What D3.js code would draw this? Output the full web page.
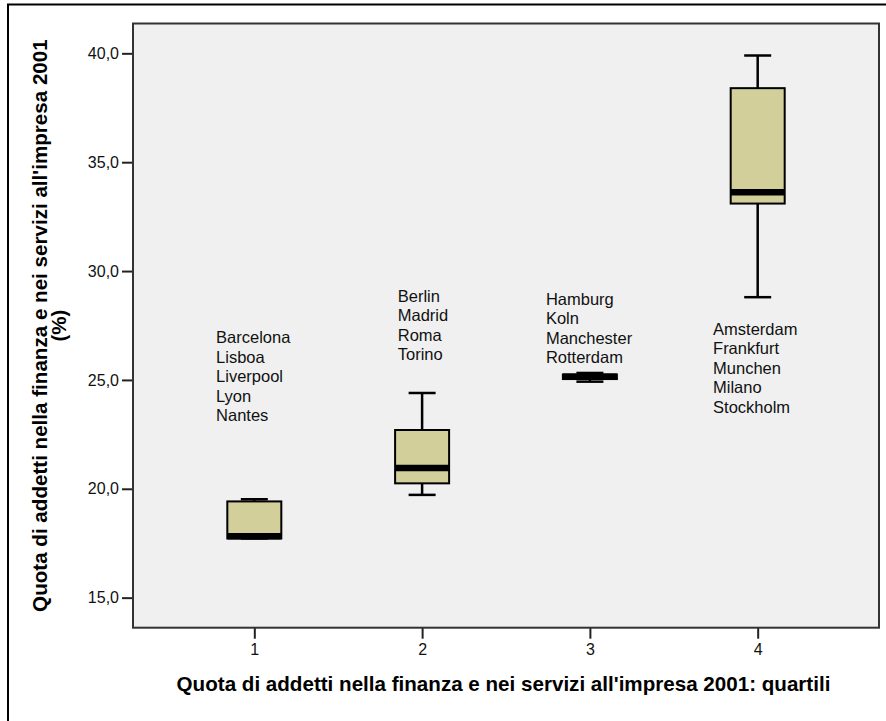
<!DOCTYPE html>
<html>
<head>
<meta charset="utf-8">
<script src="https://cdn.jsdelivr.net/npm/d3@7"></script>
<style>
  html, body { margin: 0; padding: 0; background: #ffffff; }
  svg { display: block; font-family: "Liberation Sans", Arial, sans-serif; }
</style>
</head>
<body>
<svg id="chart" width="886" height="721"></svg>
<script>
// Quartile groups of the share of employment in finance and business services (2001)
const categories = [1, 2, 3, 4];
const whiskerHigh = [19.52, 24.40, 25.32, 39.90];
const q3Values    = [19.42, 22.70, 25.25, 38.40];
const medians     = [17.82, 20.95, 25.15, 33.62];
const q1Values    = [17.72, 20.25, 25.04, 33.10];
const whiskerLow  = [17.72, 19.72, 24.92, 28.80];

// City names listed beside each quartile group
const cityGroups = [
  ["Barcelona", "Lisboa", "Liverpool", "Lyon", "Nantes"],
  ["Berlin", "Madrid", "Roma", "Torino"],
  ["Hamburg", "Koln", "Manchester", "Rotterdam"],
  ["Amsterdam", "Frankfurt", "Munchen", "Milano", "Stockholm"]
];
// Anchor of each city list, in axis units (x = group axis, y = value of first baseline)
const cityAnchorX = [0.772, 1.855, 2.738, 3.734];
const cityAnchorY = [26.69, 28.60, 28.45, 27.07];

const yTicks = [15, 20, 25, 30, 35, 40];
const yTitle = ["Quota di addetti nella finanza e nei servizi all'impresa 2001", "(%)"];
const xTitle = "Quota di addetti nella finanza e nei servizi all'impresa 2001: quartili";

const svg = d3.select("#chart");
const plot = { left: 133, top: 23.5, right: 879, bottom: 627.7 };

const x = d3.scaleLinear().domain([0.277, 4.723]).range([plot.left, plot.right]);
const y = d3.scaleLinear().domain([13.62, 41.37]).range([plot.bottom, plot.top]);

const itFormat = d3.formatLocale({ decimal: ",", thousands: ".", grouping: [3], currency: ["", "€"] }).format(".1f");

// outer frame
svg.append("rect")
  .attr("x", 8).attr("y", 4.5)
  .attr("width", 900).attr("height", 740)
  .attr("fill", "none").attr("stroke", "#000").attr("stroke-width", 2);

// plot background
svg.append("rect")
  .attr("x", plot.left).attr("y", plot.top)
  .attr("width", plot.right - plot.left).attr("height", plot.bottom - plot.top)
  .attr("fill", "#f0f0f0");

// y axis
const yAxis = svg.append("g")
  .attr("transform", `translate(${plot.left},0)`)
  .call(d3.axisLeft(y).tickValues(yTicks).tickFormat(itFormat).tickSize(11).tickPadding(3));
yAxis.select(".domain").remove();
yAxis.selectAll(".tick line").attr("stroke", "#222").attr("stroke-width", 2);
yAxis.selectAll(".tick text")
  .attr("fill", "#111").attr("font-size", 16)
  .attr("font-family", "'Liberation Sans', Arial, sans-serif");

// x axis
const xAxis = svg.append("g")
  .attr("transform", `translate(0,${plot.bottom})`)
  .call(d3.axisBottom(x).tickValues(categories).tickFormat(d3.format("d")).tickSize(11).tickPadding(5));
xAxis.select(".domain").remove();
xAxis.selectAll(".tick line").attr("stroke", "#222").attr("stroke-width", 2);
xAxis.selectAll(".tick text")
  .attr("fill", "#111").attr("font-size", 16)
  .attr("font-family", "'Liberation Sans', Arial, sans-serif");

// plot border
svg.append("rect")
  .attr("x", plot.left).attr("y", plot.top)
  .attr("width", plot.right - plot.left).attr("height", plot.bottom - plot.top)
  .attr("fill", "none").attr("stroke", "#333").attr("stroke-width", 2);

// box plots
const boxHalf = 27;
const capHalf = 13.5;
const boxes = svg.append("g");
categories.forEach((c, i) => {
  const cx = x(c);
  const g = boxes.append("g");
  // whiskers
  g.append("line")
    .attr("x1", cx).attr("x2", cx)
    .attr("y1", y(whiskerHigh[i])).attr("y2", y(q3Values[i]))
    .attr("stroke", "#000").attr("stroke-width", 2.5);
  g.append("line")
    .attr("x1", cx).attr("x2", cx)
    .attr("y1", y(q1Values[i])).attr("y2", y(whiskerLow[i]))
    .attr("stroke", "#000").attr("stroke-width", 2.5);
  g.append("line")
    .attr("x1", cx - capHalf).attr("x2", cx + capHalf)
    .attr("y1", y(whiskerHigh[i])).attr("y2", y(whiskerHigh[i]))
    .attr("stroke", "#000").attr("stroke-width", 2.5);
  g.append("line")
    .attr("x1", cx - capHalf).attr("x2", cx + capHalf)
    .attr("y1", y(whiskerLow[i])).attr("y2", y(whiskerLow[i]))
    .attr("stroke", "#000").attr("stroke-width", 2.5);
  // box
  g.append("rect")
    .attr("x", cx - boxHalf).attr("width", boxHalf * 2)
    .attr("y", y(q3Values[i])).attr("height", Math.max(0.5, y(q1Values[i]) - y(q3Values[i])))
    .attr("fill", "#d2cf9b").attr("stroke", "#000").attr("stroke-width", 2);
  // median band
  g.append("line")
    .attr("x1", cx - boxHalf).attr("x2", cx + boxHalf)
    .attr("y1", y(medians[i])).attr("y2", y(medians[i]))
    .attr("stroke", "#000").attr("stroke-width", 6.5);
});

// city lists
const lineGap = 19.5;
const labels = svg.append("g")
  .attr("font-size", 16.5).attr("fill", "#111");
cityGroups.forEach((names, i) => {
  const t = labels.append("text")
    .attr("x", x(cityAnchorX[i]))
    .attr("y", y(cityAnchorY[i]));
  names.forEach((n, j) => {
    t.append("tspan")
      .attr("x", x(cityAnchorX[i]))
      .attr("dy", j === 0 ? 0 : lineGap)
      .text(n);
  });
});

// axis titles
const midY = (plot.top + plot.bottom) / 2;
const yt = svg.append("text")
  .attr("transform", `translate(47,${midY}) rotate(-90)`)
  .attr("text-anchor", "middle")
  .attr("font-size", 20.6).attr("font-weight", "bold").attr("fill", "#000");
yTitle.forEach((s, j) => {
  yt.append("tspan").attr("x", 0).attr("dy", j === 0 ? 0 : 19).text(s);
});

svg.append("text")
  .attr("x", 503.5)
  .attr("y", 691)
  .attr("text-anchor", "middle")
  .attr("font-size", 20.6).attr("font-weight", "bold").attr("fill", "#000")
  .text(xTitle);
</script>
</body>
</html>
